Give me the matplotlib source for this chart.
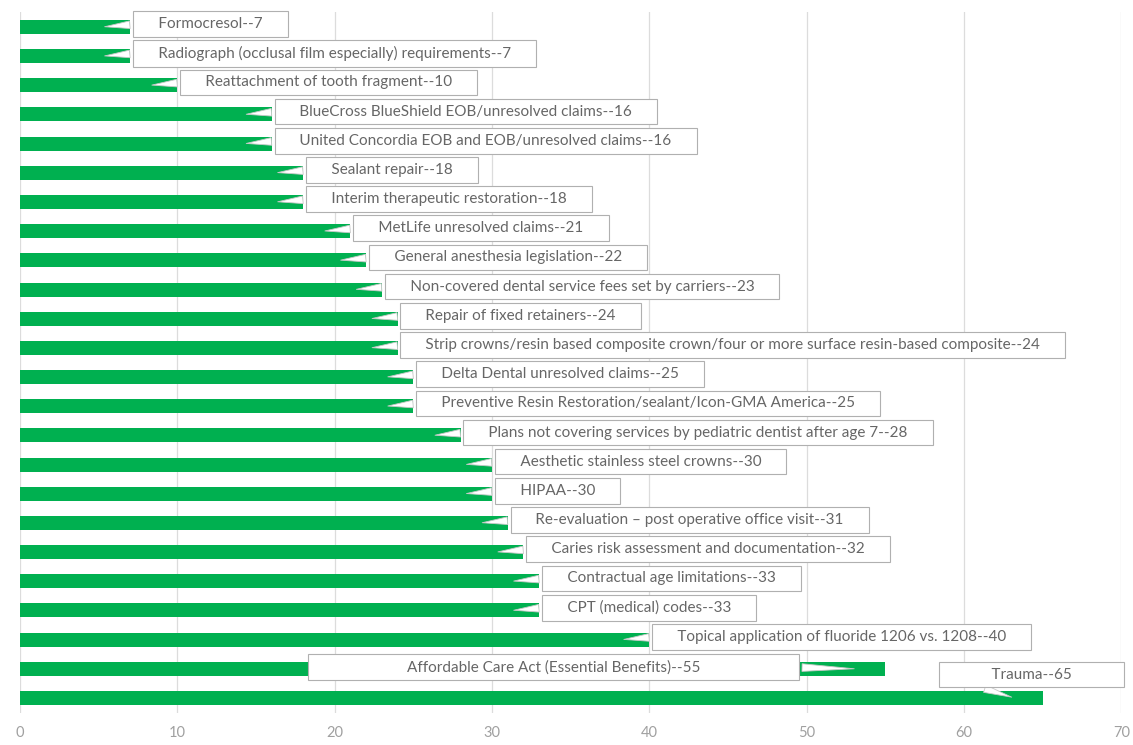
import matplotlib
matplotlib.use("Agg")
import matplotlib.pyplot as plt

# categories (top to bottom) and counts
labels = [
    "Formocresol", "Radiograph (occlusal film especially) requirements",
    "Reattachment of tooth fragment", "BlueCross BlueShield EOB/unresolved claims",
    "United Concordia EOB and EOB/unresolved claims", "Sealant repair",
    "Interim therapeutic restoration", "MetLife unresolved claims",
    "General anesthesia legislation", "Non-covered dental service fees set by carriers",
    "Repair of fixed retainers",
    "Strip crowns/resin based composite crown/four or more surface resin-based composite",
    "Delta Dental unresolved claims", "Preventive Resin Restoration/sealant/Icon-GMA America",
    "Plans not covering services by pediatric dentist after age 7",
    "Aesthetic stainless steel crowns", "HIPAA", "Re-evaluation \u2013 post operative office visit",
    "Caries risk assessment and documentation", "Contractual age limitations",
    "CPT (medical) codes", "Topical application of fluoride 1206 vs. 1208",
    "Affordable Care Act (Essential Benefits)", "Trauma",
]
counts = [7, 7, 10, 16, 16, 18, 18, 21, 22, 23, 24, 24, 25, 25, 28, 30, 30, 31, 32, 33, 33, 40, 55, 65]

GREEN = "#00b050"
FONT = "Lato"

fig = plt.figure(figsize=(11.33, 7.45), dpi=100)
ax = fig.add_axes([0.0177, 0.0435, 0.972, 0.9399])

ypos = list(range(len(counts)))
ax.barh(ypos, counts, height=0.48, color=GREEN, zorder=2)
ax.set_ylim(len(counts) - 0.5, -0.5)
ax.set_xlim(0, 70)
ax.set_xticks(range(0, 71, 10))
ax.set_yticks([])
ax.grid(axis="x", color="#dcdcdc", lw=0.9, zorder=0)
for s in ax.spines.values():
    s.set_visible(False)
ax.tick_params(axis="x", length=0, pad=10, labelsize=10.5, labelcolor="#a0a0a0")
for t in ax.get_xticklabels():
    t.set_fontfamily(FONT)

box = dict(boxstyle="square,pad=0.38", fc="white", ec="#b0b0b0", lw=0.8)
wedge = dict(arrowstyle="wedge,tail_width=0.5,shrink_factor=0.5", fc="white",
             ec="#c8c8c8", lw=0.6)

for i, (lab, v) in enumerate(zip(labels, counts)):
    kw = dict(fontsize=11, color="#666666", family=FONT, va="center",
              bbox=box, zorder=5, annotation_clip=False)
    if lab.startswith("Affordable"):
        pad = " " * 24
        ax.annotate(pad + f"{lab}--{v}" + pad, xy=(53.2, i), xytext=(33.9, i - 0.05),
                    ha="center", arrowprops=dict(wedge, relpos=(1, 0.5)), **kw)
    elif lab == "Trauma":
        pad = " " * 12
        ax.annotate(pad + f"{lab}--{v}" + pad, xy=(63.2, i), xytext=(64.3, i - 0.8),
                    ha="center", arrowprops=dict(wedge, relpos=(0.1, 0)), **kw)
    else:
        pad = " " * 5
        ax.annotate(pad + f"{lab}--{v}" + pad, xy=(v - 1.8, i), xytext=(v + 0.55, i - 0.1),
                    ha="left", arrowprops=dict(wedge, relpos=(0, 0.5)), **kw)

fig.savefig("out.png", dpi=100)
